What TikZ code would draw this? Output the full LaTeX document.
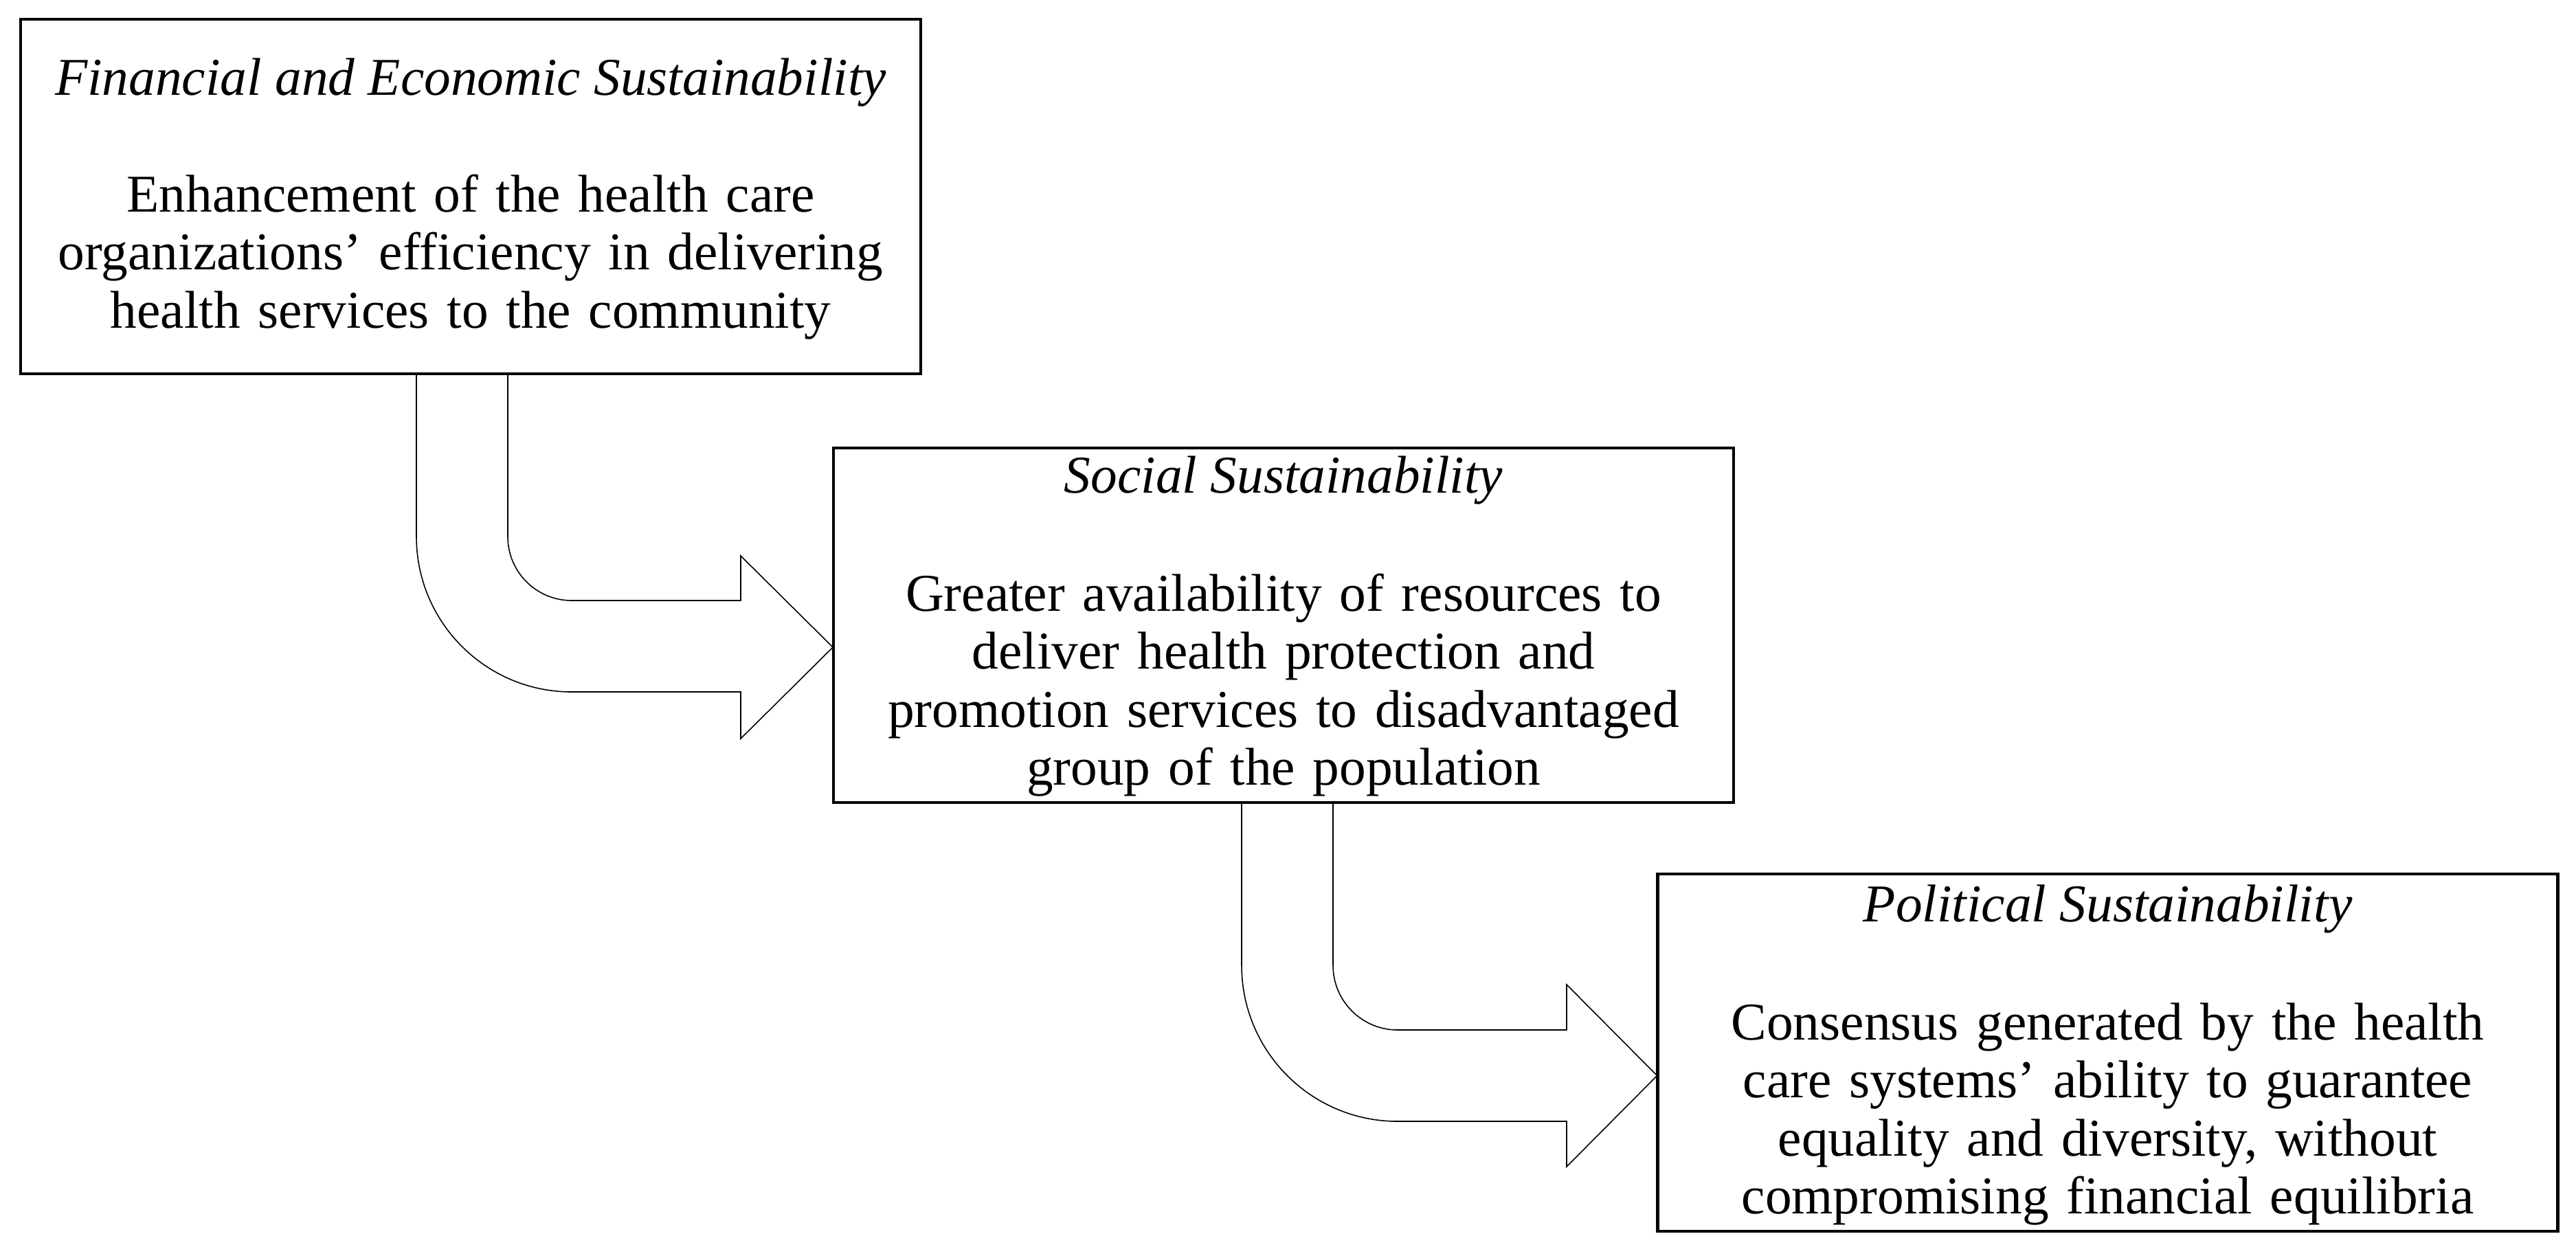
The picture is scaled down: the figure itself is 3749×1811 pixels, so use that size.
\documentclass[tikz,border=0pt]{standalone}
\usepackage{fontspec}
\setmainfont{Liberation Serif}
\tikzset{
  boxstyle/.style={draw=black, line width=0.85pt, rectangle, minimum width=13.08cm, minimum height=5.14cm, inner sep=0pt, fill=white},
  titletext/.style={font=\fontsize{22}{24}\selectfont\itshape, inner sep=0pt, anchor=base},
  bodytext/.style={font=\fontsize{22}{24.04}\selectfont, inner sep=0pt, anchor=base, text width=12.9cm, align=center},
  arrowshape/.style={draw=black, line width=0.45pt, fill=white, line join=miter},
}
\begin{document}
\begin{tikzpicture}[x=0.01cm, y=-0.01cm]
\useasboundingbox (0,0) rectangle (3749,1811);
\fill[white] (0,0) rectangle (3749,1811);

% boxes
\node[boxstyle] (b1) at (685,286) {};
\node[boxstyle] (b2) at (1868,910) {};
\node[boxstyle, minimum height=5.18cm] (b3) at (3067.5,1532) {};

% arrow 1
\draw[arrowshape] (606,0 |- b1.south) -- (606,781)
  .. controls (606,905.8) and (707.2,1007) .. (832,1007)
  -- (1078,1007) -- (1078,1075) -- (b2.west |- 0,942) -- (1078,809) -- (1078,874)
  -- (832,874) .. controls (780.6,874) and (739,832.4) .. (739,781)
  -- (739,0 |- b1.south);

% arrow 2
\draw[arrowshape] (1807,0 |- b2.south) -- (1807,1405)
  .. controls (1807,1530.4) and (1908.6,1632) .. (2034,1632)
  -- (2280,1632) -- (2280,1698) -- (b3.west |- 0,1565.5) -- (2280,1433) -- (2280,1499)
  -- (2034,1499) .. controls (1982.1,1499) and (1940,1456.9) .. (1940,1405)
  -- (1940,0 |- b2.south);

% redraw box borders on top
\draw[line width=0.85pt] (b1.south west) rectangle (b1.north east);
\draw[line width=0.85pt] (b2.south west) rectangle (b2.north east);
\draw[line width=0.85pt] (b3.south west) rectangle (b3.north east);

% texts
\node[titletext] (t1) at (685,138) {Financial and Economic Sustainability};
\node[bodytext] (d1) at (685,308) {Enhancement of the health care\\organizations’ efficiency in delivering\\health services to the community};

\node[titletext] (t2) at (1868,717.5) {Social Sustainability};
\node[bodytext] (d2) at (1868,889) {Greater availability of resources to\\deliver health protection and\\promotion services to disadvantaged\\group of the population};

\node[titletext] (t3) at (3067.5,1341) {Political Sustainability};
\node[bodytext] (d3) at (3067.5,1513) {Consensus generated by the health\\care systems’ ability to guarantee\\equality and diversity, without\\compromising financial equilibria};
\end{tikzpicture}
\end{document}
